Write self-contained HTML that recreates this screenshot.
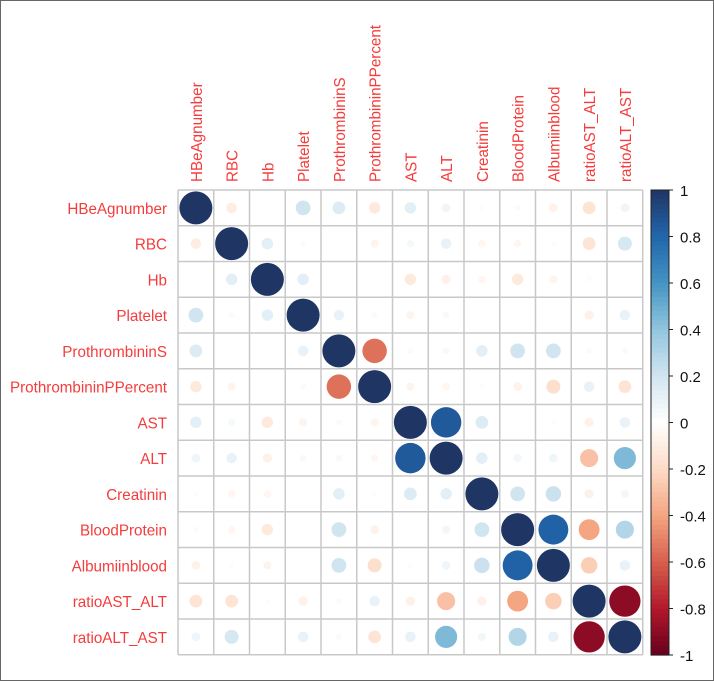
<!DOCTYPE html>
<html><head><meta charset="utf-8"><style>
html,body{margin:0;padding:0;background:#fff;}
svg{display:block;font-family:"Liberation Sans",Arial,sans-serif;}
</style></head><body>
<svg id="chart" width="714" height="681" viewBox="0 0 714 681">
<rect x="0.5" y="0.5" width="713" height="680" fill="#fff" stroke="#666" stroke-width="1"/>
<g id="grid"></g><g id="marks"></g><g id="labels"></g><g id="legend"></g>
</svg>
<script>
const variables = ["HBeAgnumber","RBC","Hb","Platelet","ProthrombininS","ProthrombininPPercent","AST","ALT","Creatinin","BloodProtein","Albumiinblood","ratioAST_ALT","ratioALT_AST"];
const upperRow0 = [-0.10,0,0.20,0.15,-0.12,0.12,0.07,0.02,-0.03,-0.07,-0.15,0.07];
const upperRow1 = [0.12,-0.03,0,-0.06,0.05,0.10,-0.05,-0.05,-0.02,-0.15,0.18];
const upperRow2 = [0.12,0.01,0.01,-0.12,-0.08,-0.05,-0.12,-0.06,-0.02,0];
const upperRow3 = [0.10,0.03,-0.06,0.04,0,0,0,-0.08,0.10];
const upperRow4 = [-0.55,0.03,0.04,0.12,0.20,0.20,0.03,0.03];
const upperRow5 = [-0.06,-0.05,0.02,-0.07,-0.18,0.10,-0.15];
const upperRow6 = [0.85,0.15,0.01,0.02,-0.08,0.10];
const upperRow7 = [0.12,0.06,0.07,-0.30,0.45];
const upperRow8 = [0.20,0.22,-0.08,0.06];
const upperRow9 = [0.82,-0.40,0.30];
const upperRow10 = [-0.25,0.10];
const upperRow11 = [-0.90];
const colorbarTicks = [1,0.8,0.6,0.4,0.2,0,-0.2,-0.4,-0.6,-0.8,-1];
const upperRows=[upperRow0,upperRow1,upperRow2,upperRow3,upperRow4,upperRow5,upperRow6,upperRow7,upperRow8,upperRow9,upperRow10,upperRow11];

const NS="http://www.w3.org/2000/svg";
const n=variables.length, gx=178, gy=190, cs=35.75;
function mk(t,a,p){const e=document.createElementNS(NS,t);for(const k in a)e.setAttribute(k,a[k]);p.appendChild(e);return e;}
function corr(i,j){if(i===j)return 1;const a=Math.min(i,j),b=Math.max(i,j);return upperRows[a][b-a-1];}
const pal=["#67001F","#B2182B","#D6604D","#F4A582","#FDDBC7","#FFFFFF","#D1E5F0","#92C5DE","#4393C3","#2166AC","#1F3564"];
function hex(h){return [1,3,5].map(k=>parseInt(h.substr(k,2),16));}
function color(v){const t=(v+1)/2*10;const i=Math.min(9,Math.floor(t));const f=t-i;const a=hex(pal[i]),b=hex(pal[i+1]);return "rgb("+a.map((x,k)=>Math.round(x+(b[k]-x)*f)).join(",")+")";}
const xc=j=>gx+cs*(j+0.5), yc=i=>gy+cs*(i+0.5);
const grid=document.getElementById('grid'),marks=document.getElementById('marks'),labels=document.getElementById('labels'),legend=document.getElementById('legend');
for(let k=0;k<=n;k++){
  const v=mk('line',{x1:gx+cs*k,y1:gy,x2:gx+cs*k,y2:gy+cs*n,stroke:'#c8c8c8','stroke-width':1.5},grid);
  
  const h=mk('line',{x1:gx,y1:gy+cs*k,x2:gx+cs*n,y2:gy+cs*k,stroke:'#c8c8c8','stroke-width':1.5},grid);
  
}
for(let i=0;i<n;i++){for(let j=0;j<n;j++){
  const v=corr(i,j);const r=16.5*Math.sqrt(Math.abs(v));if(r<0.3)continue;
  const c=mk('circle',{cx:xc(j),cy:yc(i),r:r,fill:color(v)},marks);
  
}}
for(let i=0;i<n;i++){
  const t=mk('text',{x:0,y:0,transform:`translate(167,${yc(i)+6}) scale(0.95,1)`,'text-anchor':'end','font-size':16,fill:'#f53c3c'},labels);t.textContent=variables[i];
  
  const c=mk('text',{x:0,y:0,transform:`translate(${xc(i)+6},182) rotate(-90) scale(0.95,1)`,'font-size':16,fill:'#f53c3c'},labels);c.textContent=variables[i];
  
}
const by0=190,by1=655,bx=651,bw=18;
for(let k=0;k<100;k++){
  const v=1-2*(k+0.5)/100;const h=(by1-by0)/100;
  const r=mk('rect',{x:bx,y:by0+h*k,width:bw,height:h+0.6,fill:color(v)},legend);
  
}
const fr=mk('rect',{x:bx,y:by0,width:bw,height:by1-by0,fill:'none',stroke:'#222','stroke-width':1},legend);

colorbarTicks.forEach(v=>{
  const y=by0+(1-v)/2*(by1-by0);
  const tk=mk('line',{x1:bx+bw,y1:y,x2:bx+bw+4,y2:y,stroke:'#222'},legend);
  
  const t=mk('text',{x:680,y:y+6,'font-size':15,fill:'#111'},legend);t.textContent=String(v);
  
});
</script>
</body></html>
